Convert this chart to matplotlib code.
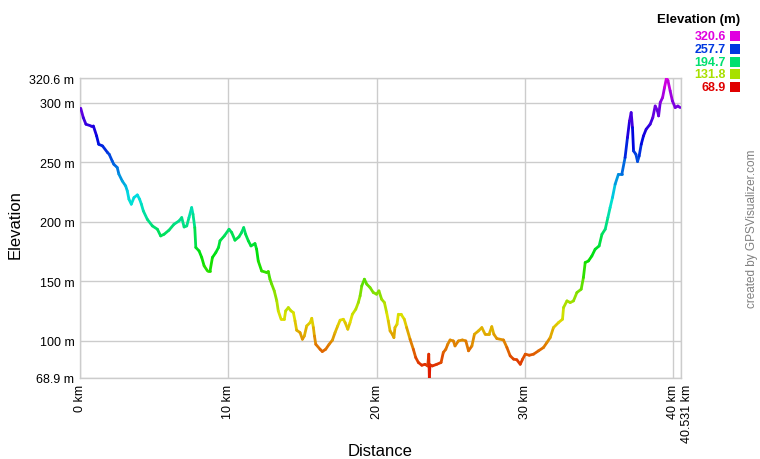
import matplotlib
matplotlib.use("Agg")
import matplotlib.pyplot as plt
from matplotlib.collections import LineCollection
from matplotlib.colors import hsv_to_rgb
from matplotlib.patches import Rectangle
import numpy as np

plt.rcParams['font.family'] = ['Liberation Sans', 'DejaVu Sans']

# profil (km, m)
dist_km = [0.05, 0.22, 0.40, 0.74, 0.90, 1.12, 1.26, 1.52, 1.86, 1.97, 2.17, 2.28, 2.51, 2.62,
           2.85, 3.08, 3.19, 3.30, 3.46, 3.64, 3.87, 4.02, 4.14, 4.27, 4.54, 4.88, 5.22, 5.44,
           5.67, 6.00, 6.34, 6.68, 6.86, 7.02, 7.20, 7.35, 7.53, 7.62, 7.74, 7.81, 8.03, 8.21,
           8.37, 8.60, 8.77, 8.93, 9.16, 9.34, 9.44, 9.73, 10.05, 10.23, 10.45, 10.72, 10.90,
           11.04, 11.17, 11.35, 11.53, 11.80, 11.91, 12.02, 12.25, 12.59, 12.70, 12.81, 12.93,
           13.10, 13.27, 13.37, 13.56, 13.78, 13.87, 14.05, 14.23, 14.39, 14.50, 14.61, 14.84,
           15.00, 15.13, 15.29, 15.52, 15.63, 15.74, 15.81, 15.90, 16.19, 16.34, 16.57, 16.80,
           17.02, 17.20, 17.38, 17.54, 17.76, 17.88, 18.06, 18.21, 18.37, 18.60, 18.77, 18.89,
           19.00, 19.18, 19.34, 19.56, 19.78, 20.00, 20.16, 20.34, 20.53, 20.68, 20.79, 20.91,
           21.06, 21.17, 21.24, 21.38, 21.47, 21.65, 21.87, 22.03, 22.26, 22.48, 22.64, 22.82,
           23.05, 23.27, 23.45, 23.52, 23.56, 23.60, 23.76, 24.06, 24.35, 24.50, 24.67, 24.80,
           24.96, 25.18, 25.29, 25.52, 25.79, 26.02, 26.20, 26.43, 26.60, 26.87, 27.10, 27.32,
           27.59, 27.77, 27.91, 28.11, 28.56, 28.79, 29.01, 29.24, 29.46, 29.69, 29.85, 30.03,
           30.30, 30.59, 30.92, 31.26, 31.49, 31.71, 31.93, 32.27, 32.54, 32.61, 32.84, 33.06,
           33.28, 33.51, 33.80, 33.95, 34.07, 34.29, 34.52, 34.74, 35.01, 35.20, 35.42, 35.60,
           35.75, 35.91, 36.09, 36.31, 36.54, 36.76, 36.92, 37.06, 37.17, 37.26, 37.33, 37.49,
           37.60, 37.71, 37.85, 38.00, 38.18, 38.45, 38.63, 38.79, 38.95, 39.02, 39.13, 39.29,
           39.42, 39.55, 39.65, 39.80, 39.95, 40.14, 40.32, 40.47]
elev_m = [295.2, 287.4, 281.8, 280.4, 280.4, 272.0, 265.0, 263.6, 258.0, 256.6, 251.0, 248.2,
          245.5, 240.0, 234.2, 230.0, 225.8, 218.9, 214.7, 220.3, 222.5, 218.9, 214.7, 209.1,
          202.0, 196.5, 193.7, 188.1, 189.5, 192.9, 197.9, 200.7, 203.5, 195.6, 196.5, 203.5,
          211.9, 206.3, 195.1, 178.4, 175.5, 170.0, 163.0, 158.7, 158.7, 170.0, 174.2, 178.4,
          184.0, 188.1, 193.7, 191.0, 184.5, 187.3, 191.0, 195.1, 189.5, 184.0, 179.7, 181.7,
          177.0, 167.1, 158.7, 157.4, 158.2, 151.8, 147.6, 142.0, 133.6, 125.2, 118.2, 118.2,
          125.2, 128.0, 125.2, 123.8, 116.8, 109.0, 107.0, 101.4, 104.2, 112.6, 115.4, 119.0,
          111.2, 104.2, 97.2, 93.0, 91.1, 93.0, 97.2, 100.6, 107.0, 112.6, 117.4, 118.2, 115.4,
          109.8, 115.4, 122.4, 126.6, 132.2, 137.8, 146.1, 151.8, 147.6, 144.8, 140.6, 139.2,
          142.0, 135.0, 132.2, 123.8, 116.8, 108.4, 105.6, 102.8, 111.2, 114.0, 122.4, 122.4,
          118.2, 111.2, 101.4, 93.0, 86.1, 81.9, 79.6, 80.4, 79.0, 88.9, 68.9, 80.0, 79.0, 80.4,
          81.9, 90.3, 93.0, 97.2, 100.8, 100.0, 95.8, 100.0, 100.8, 100.0, 91.7, 95.8, 105.6,
          108.4, 111.2, 105.6, 105.6, 112.0, 105.6, 102.0, 100.8, 94.5, 87.5, 84.7, 84.2, 80.4,
          84.7, 88.9, 88.0, 88.9, 91.7, 94.5, 98.7, 102.8, 111.2, 115.4, 118.2, 128.0, 133.6,
          132.2, 133.6, 140.6, 143.4, 153.2, 165.8, 167.1, 171.3, 176.9, 179.7, 189.5, 193.7,
          203.5, 211.9, 220.3, 231.5, 239.8, 239.8, 253.9, 270.6, 284.6, 291.6, 279.0, 259.4,
          256.6, 250.5, 255.2, 265.0, 272.0, 277.6, 281.8, 287.4, 297.1, 293.0, 288.8, 300.0,
          304.2, 312.6, 320.6, 318.5, 309.8, 301.4, 295.8, 297.1, 295.8]

e_min, e_max = 68.9, 320.6
total_km = 40.531
y_ticks = [68.9, 100, 150, 200, 250, 300, 320.6]
x_ticks = [0, 10, 20, 30, 40, 40.531]
legend_vals = [320.6, 257.7, 194.7, 131.8, 68.9]


def couleur(e):
    # rouge (min) -> magenta (max) en teinte
    h = (np.asarray(e) - e_min) / (e_max - e_min) * (300.0 / 360.0)
    hsv = np.stack([h, np.ones_like(h), np.full_like(h, 0.88)], axis=-1)
    return hsv_to_rgb(hsv)


fig = plt.figure(figsize=(7.6, 4.6), dpi=100)
ax = fig.add_axes([80 / 760, 81 / 460, 601 / 760, 300 / 460])

x = np.array(dist_km)
y = np.array(elev_m)
pts = np.column_stack([x, y]).reshape(-1, 1, 2)
segs = np.concatenate([pts[:-1], pts[1:]], axis=1)
lc = LineCollection(segs, colors=couleur((y[:-1] + y[1:]) / 2), linewidths=2,
                    capstyle='round', joinstyle='round', zorder=3)
ax.add_collection(lc)

ax.set_xlim(0, total_km)
ax.set_ylim(e_min, e_max)

ax.set_yticks(y_ticks)
ax.set_yticklabels([f"{v:g} m" for v in y_ticks], fontsize=9)
ax.set_xticks(x_ticks)
ax.set_xticklabels([f"{v:g} km" for v in x_ticks], fontsize=9, rotation=90)
ax.get_xticklabels()[-1].set_horizontalalignment('left')
ax.tick_params(length=0, pad=4, colors='black')
ax.grid(True, color='#cccccc', linewidth=1)
for s in ax.spines.values():
    s.set_color('#cccccc')
    s.set_linewidth(1)

fig.text(380 / 760, 1 - 452 / 460, "Distance", fontsize=12, ha='center', va='center')
fig.text(15 / 760, 1 - 225 / 460, "Elevation", fontsize=12, rotation=90,
         ha='center', va='center')

# légende
fig.text(740 / 760, 1 - 20 / 460, "Elevation (m)", fontsize=9.5, fontweight='bold',
         ha='right', va='center')
for i, v in enumerate(legend_vals):
    yc = 1 - (37 + i * 12.8) / 460
    c = couleur(v)
    fig.text(726 / 760, yc, f"{v:g}", fontsize=9, fontweight='bold', color=c,
             ha='right', va='center')
    fig.patches.append(Rectangle((730 / 760, yc - 5 / 460), 10 / 760, 10 / 460,
                                 transform=fig.transFigure, facecolor=c, edgecolor='none'))

fig.text(752 / 760, 1 - 229 / 460, "created by GPSVisualizer.com", fontsize=8.5,
         color='#808080', rotation=90, ha='center', va='center')

fig.savefig("out.png", dpi=100)
